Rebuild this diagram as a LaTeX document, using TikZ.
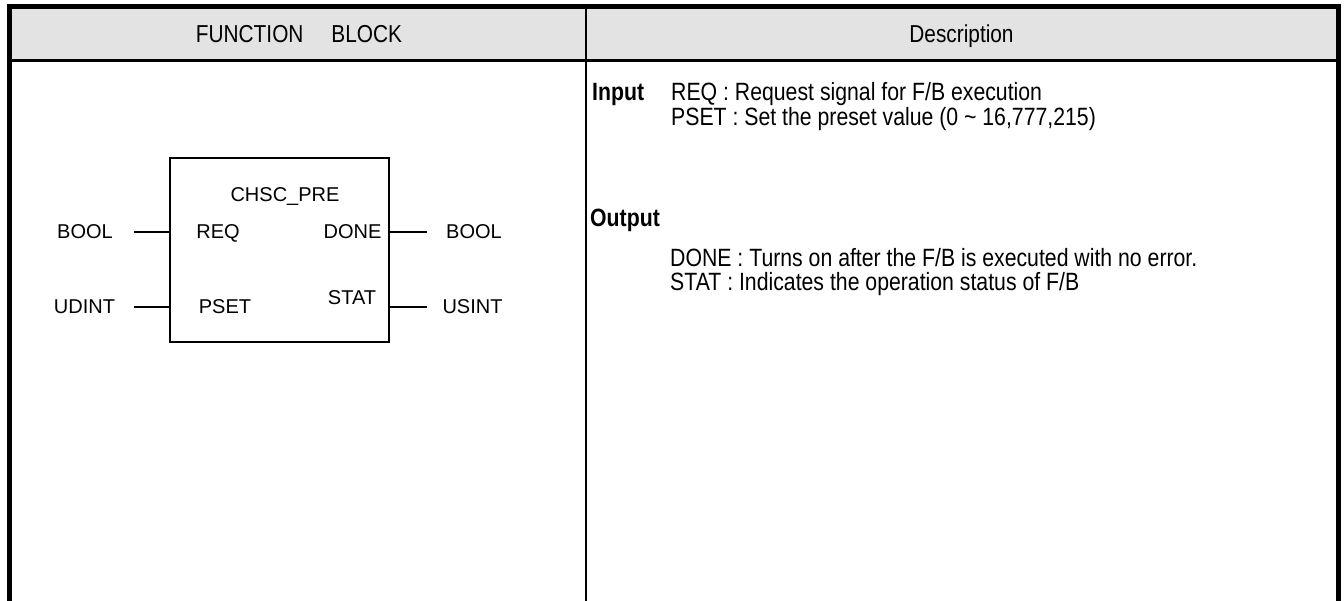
\documentclass[tikz,border=0pt]{standalone}
\usepackage{fontspec}
\setmainfont{Liberation Sans}
\newfontfamily\narrowfont[FakeStretch=0.85]{Liberation Sans}
\definecolor{headgray}{HTML}{E3E3E3}
\begin{document}
\begin{tikzpicture}[x=1pt,y=-1pt,
  hdr/.style={anchor=base,inner sep=0pt,font=\fontsize{24.5}{29}\selectfont\narrowfont},
  desc/.style={anchor=base west,inner sep=0pt,font=\fontsize{25}{30}\selectfont\narrowfont},
  desclbl/.style={anchor=base west,inner sep=0pt,font=\fontsize{25}{30}\selectfont\narrowfont\bfseries},
  lbl/.style={anchor=base,inner sep=0pt,font=\fontsize{20}{24}\selectfont},
  fbbox/.style={draw,line width=1.3pt,minimum width=219pt,minimum height=184pt,inner sep=0pt,outer sep=0pt},
  stub/.style={line width=1.3pt}]
\useasboundingbox (0,0) rectangle (1344,601);
% table
\fill[headgray] (12,9) rectangle (1336,59);
\draw[line width=5pt,line join=miter] (9.5,601) -- (9.5,6.5) -- (1338.5,6.5) -- (1338.5,601);
\draw[line width=3pt] (12,60.5) -- (1336,60.5);
\draw[line width=2pt] (586,9) -- (586,601);
\node[hdr] (h1) at (299,43) {FUNCTION\hspace{28pt}BLOCK};
\node[hdr] (h2) at (961.5,43) {Description};
% function block
\node[fbbox] (fb) at (279.5,250) {};
\node[lbl] (name) at (285,202) {CHSC\_PRE};
\node[lbl] (preq) at (218,239) {REQ};
\node[lbl] (ppset) at (225,314) {PSET};
\node[lbl] (pdone) at (352.5,239) {DONE};
\node[lbl] (pstat) at (352,305) {STAT};
\node[lbl] (tin1) at (85,239) {BOOL};
\node[lbl] (tin2) at (84.5,314) {UDINT};
\node[lbl] (tout1) at (474,239) {BOOL};
\node[lbl] (tout2) at (472.5,314) {USINT};
\coordinate (a1) at (134,232);
\coordinate (a2) at (134,307);
\coordinate (b1) at (427,232);
\coordinate (b2) at (427,307);
\draw[stub] (a1) -- (a1 -| fb.west);
\draw[stub] (a2) -- (a2 -| fb.west);
\draw[stub] (fb.east |- b1) -- (b1);
\draw[stub] (fb.east |- b2) -- (b2);
% description
\node[desclbl] (lin) at (592,101) {Input};
\node[desc] (dreq) at (671,101) {REQ : Request signal for F/B execution};
\node[desc] (dpset) at (671,126) {PSET : Set the preset value (0 \textasciitilde{} 16,777,215)};
\node[desclbl] (lout) at (590,227) {Output};
\node[desc] (ddone) at (670,267) {DONE : Turns on after the F/B is executed with no error.};
\node[desc] (dstat) at (670,291) {STAT : Indicates the operation status of F/B};
\end{tikzpicture}
\end{document}
